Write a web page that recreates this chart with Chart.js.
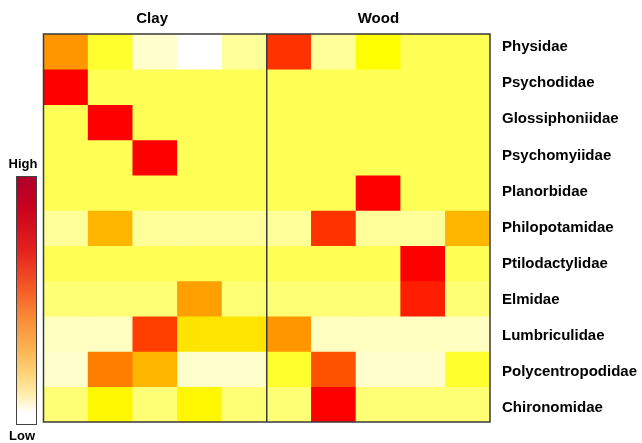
<!DOCTYPE html>
<html>
<head>
<meta charset="utf-8">
<script src="https://cdn.jsdelivr.net/npm/chart.js@4/dist/chart.umd.min.js"></script>
<style>
  html, body { margin: 0; padding: 0; background: #ffffff; }
  #wrap { width: 642px; height: 443px; position: relative; }
</style>
</head>
<body>
<div id="wrap"><canvas id="heat" width="642" height="443"></canvas></div>
<script>
// Families (rows, top to bottom) and sampling units (columns)
const families = [
  'Physidae', 'Psychodidae', 'Glossiphoniidae', 'Psychomyiidae', 'Planorbidae',
  'Philopotamidae', 'Ptilodactylidae', 'Elmidae', 'Lumbriculidae',
  'Polycentropodidae', 'Chironomidae'
];
const habitats = ['Clay', 'Wood'];
const samples = ['C1', 'C2', 'C3', 'C4', 'C5', 'W1', 'W2', 'W3', 'W4', 'W5'];

// Relative abundance per family (0 = low, 1 = high), Clay C1..C5 then Wood W1..W5
const physidae          = [0.72, 0.42, 0.10, 0.00, 0.20, 0.90, 0.20, 0.50, 0.35, 0.35];
const psychodidae       = [1.00, 0.35, 0.35, 0.35, 0.35, 0.35, 0.35, 0.35, 0.35, 0.35];
const glossiphoniidae   = [0.35, 1.00, 0.35, 0.35, 0.35, 0.35, 0.35, 0.35, 0.35, 0.35];
const psychomyiidae     = [0.35, 0.35, 1.00, 0.35, 0.35, 0.35, 0.35, 0.35, 0.35, 0.35];
const planorbidae       = [0.35, 0.35, 0.35, 0.35, 0.35, 0.35, 0.35, 1.00, 0.35, 0.35];
const philopotamidae    = [0.20, 0.66, 0.20, 0.20, 0.20, 0.20, 0.90, 0.20, 0.20, 0.66];
const ptilodactylidae   = [0.35, 0.35, 0.35, 0.35, 0.35, 0.35, 0.35, 0.35, 1.00, 0.35];
const elmidae           = [0.28, 0.28, 0.28, 0.70, 0.28, 0.28, 0.28, 0.28, 0.94, 0.28];
const lumbriculidae     = [0.12, 0.12, 0.88, 0.57, 0.57, 0.72, 0.12, 0.12, 0.12, 0.12];
const polycentropodidae = [0.10, 0.77, 0.66, 0.10, 0.10, 0.42, 0.85, 0.10, 0.10, 0.42];
const chironomidae      = [0.28, 0.52, 0.28, 0.52, 0.28, 0.28, 1.00, 0.28, 0.28, 0.28];

const rows = [
  physidae, psychodidae, glossiphoniidae, psychomyiidae, planorbidae,
  philopotamidae, ptilodactylidae, elmidae, lumbriculidae,
  polycentropodidae, chironomidae
];

// Cell palette: white -> pale yellow -> yellow -> orange -> red
const stops = [
  [0.00, [255, 255, 255]],
  [0.10, [255, 255, 204]],
  [0.20, [255, 255, 153]],
  [0.35, [255, 255, 85]],
  [0.50, [255, 255, 0]],
  [0.60, [255, 216, 0]],
  [0.70, [255, 160, 0]],
  [0.80, [255, 112, 0]],
  [0.90, [255, 51, 0]],
  [1.00, [255, 0, 0]]
];
function heatColor(v) {
  for (let i = 1; i < stops.length; i++) {
    const [p1, c1] = stops[i];
    const [p0, c0] = stops[i - 1];
    if (v <= p1) {
      const t = (v - p0) / (p1 - p0);
      const c = c0.map((a, k) => Math.round(a + (c1[k] - a) * t));
      return `rgb(${c[0]},${c[1]},${c[2]})`;
    }
  }
  return 'rgb(255,0,0)';
}

const FONT = "'Liberation Sans', Arial, sans-serif";

// Frame around the grid plus the Clay | Wood divider
const framePlugin = {
  id: 'frame',
  afterDatasetsDraw(chart) {
    const { ctx, chartArea: a, scales: { x } } = chart;
    ctx.save();
    ctx.strokeStyle = '#3a3a3a';
    ctx.lineWidth = 1.5;
    ctx.strokeRect(a.left, a.top, a.right - a.left, a.bottom - a.top);
    const xd = x.getPixelForValue(4.5);
    ctx.beginPath();
    ctx.moveTo(xd, a.top);
    ctx.lineTo(xd, a.bottom);
    ctx.stroke();
    ctx.restore();
  }
};

// Habitat titles centred over each block of five columns
const habitatPlugin = {
  id: 'habitats',
  afterDraw(chart) {
    const { ctx, scales: { x } } = chart;
    ctx.save();
    ctx.fillStyle = '#000';
    ctx.font = `bold 15px ${FONT}`;
    ctx.textAlign = 'center';
    ctx.textBaseline = 'middle';
    habitats.forEach((h, i) => {
      const cx = (x.getPixelForValue(i * 5) + x.getPixelForValue(i * 5 + 4)) / 2;
      ctx.fillText(h, cx - (i === 0 ? 3 : 0), 19);
    });
    ctx.restore();
  }
};

// Colour key on the left: High (top) to Low (bottom)
const keyPlugin = {
  id: 'colorKey',
  afterDraw(chart) {
    const { ctx } = chart;
    const x0 = 16.5, x1 = 36.5, y0 = 176.5, y1 = 424.5;
    ctx.save();
    const g = ctx.createLinearGradient(0, y0, 0, y1);
    g.addColorStop(0.00, '#b0002b');
    g.addColorStop(0.12, '#c9001f');
    g.addColorStop(0.30, '#e5221c');
    g.addColorStop(0.45, '#f45a27');
    g.addColorStop(0.58, '#f98e38');
    g.addColorStop(0.70, '#fcb452');
    g.addColorStop(0.80, '#fed57a');
    g.addColorStop(0.88, '#ffeeae');
    g.addColorStop(0.93, '#fffbe2');
    g.addColorStop(0.95, '#ffffff');
    g.addColorStop(1.00, '#ffffff');
    ctx.fillStyle = g;
    ctx.fillRect(x0, y0, x1 - x0, y1 - y0);
    ctx.strokeStyle = '#444';
    ctx.lineWidth = 1;
    ctx.strokeRect(x0, y0, x1 - x0, y1 - y0);
    ctx.fillStyle = '#000';
    ctx.font = `bold 13px ${FONT}`;
    ctx.textAlign = 'center';
    ctx.textBaseline = 'middle';
    ctx.fillText('High', 23, 164);
    ctx.fillText('Low', 22, 436);
    ctx.restore();
  }
};

// One stacked dataset per family; each unit-height segment is a cell
const datasets = families.map((name, r) => ({
  label: name,
  data: samples.map(() => 1),
  backgroundColor: rows[r].map(heatColor),
  borderWidth: 0,
  barPercentage: 1,
  categoryPercentage: 1
}));

new Chart(document.getElementById('heat'), {
  type: 'bar',
  data: { labels: samples, datasets },
  options: {
    responsive: false,
    animation: false,
    devicePixelRatio: 1,
    layout: { padding: { left: 43.5, top: 34, right: 0, bottom: 19 } },
    plugins: { legend: { display: false }, tooltip: { enabled: false } },
    scales: {
      x: { type: 'category', stacked: true, display: false },
      y: {
        type: 'linear',
        stacked: true,
        reverse: true,
        min: 0,
        max: families.length,
        position: 'right',
        grid: { display: false, drawTicks: false },
        border: { display: false },
        // family names sit slightly above centre at the top and spread a little wider
        afterBuildTicks: (s) => { s.ticks = families.map((_, i) => ({ value: 0.37 + i * 1.024 })); },
        afterFit: (s) => { s.width = 152; },
        ticks: {
          autoSkip: false,
          padding: 12,
          color: '#000',
          font: { family: FONT, weight: 'bold', size: 15 },
          callback: (v, i) => families[i]
        }
      }
    }
  },
  plugins: [framePlugin, habitatPlugin, keyPlugin]
});
</script>
</body>
</html>
